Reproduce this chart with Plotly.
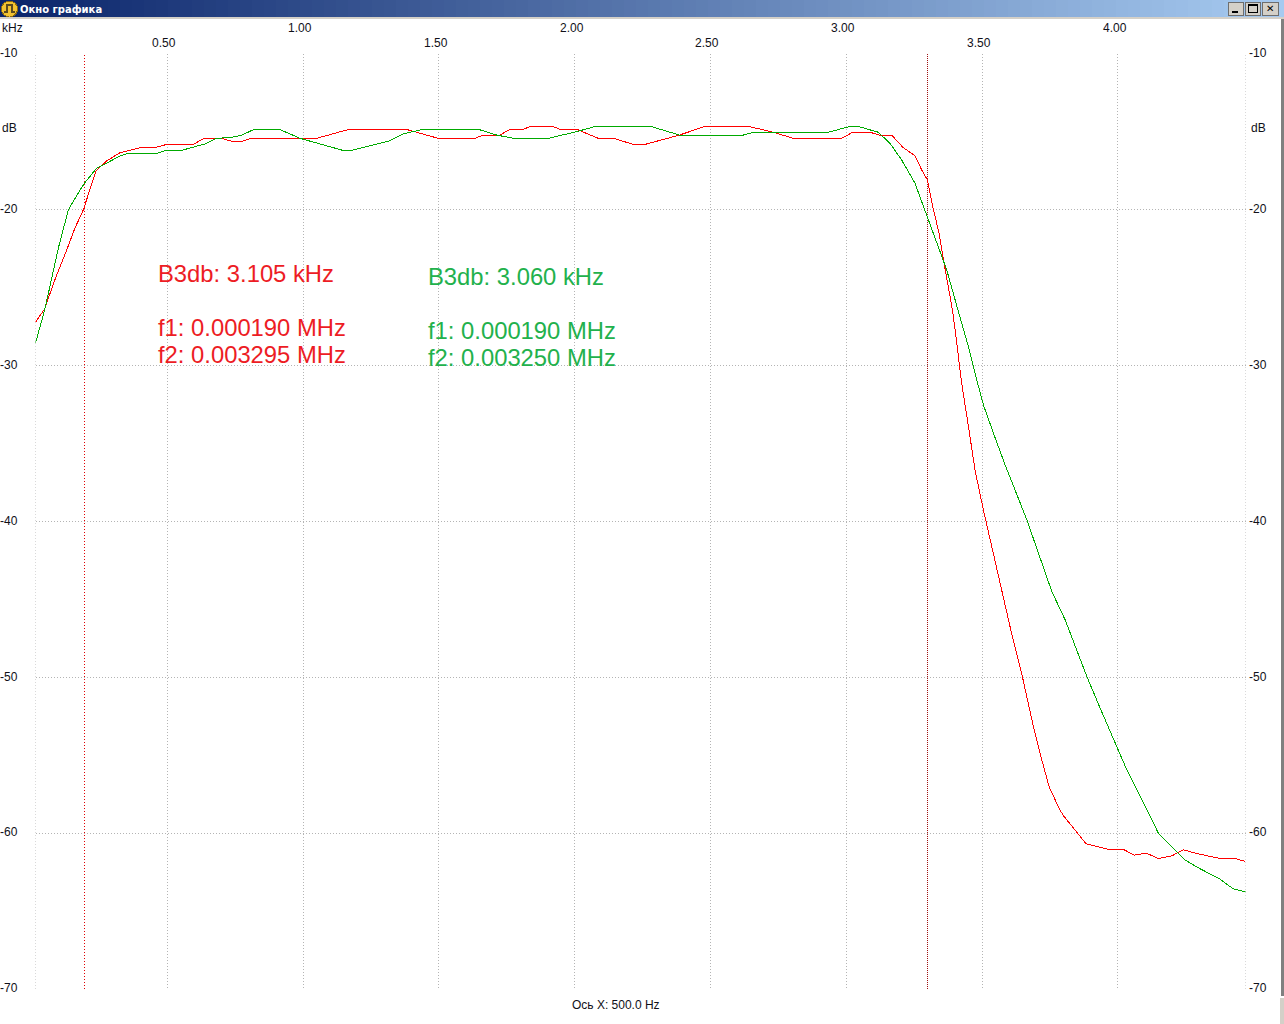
import plotly.graph_objects as go

W, H = 1284, 1024

# ---- data (kHz, dB) ----
red_khz = [0.015, 0.050, 0.060, 0.093, 0.130, 0.160, 0.191, 0.216, 0.238, 0.277, 0.326, 0.406, 0.461, 0.498,
           0.596, 0.635, 0.701, 0.737, 0.774, 0.811, 1.050, 1.170, 1.379, 1.498, 1.633, 1.664, 1.725, 1.762,
           1.811, 1.842, 1.916, 1.946, 2.008, 2.087, 2.143, 2.216, 2.259, 2.386, 2.484, 2.634, 2.732, 2.805,
           2.983, 3.024, 3.088, 3.121, 3.167, 3.210, 3.253, 3.278, 3.299, 3.321, 3.342, 3.358, 3.376, 3.391,
           3.404, 3.414, 3.425, 3.450, 3.474, 3.505, 3.536, 3.573, 3.603, 3.649, 3.689, 3.720, 3.747, 3.785,
           3.800, 3.842, 3.883, 3.971, 4.023, 4.060, 4.106, 4.149, 4.199, 4.241, 4.290, 4.383, 4.435, 4.470]
red_db = [-27.21, -26.31, -25.78, -24.17, -22.57, -21.18, -20.0, -18.72, -17.48, -16.86, -16.33, -15.98, -15.98, -15.8,
          -15.8, -15.41, -15.41, -15.6, -15.6, -15.41, -15.41, -14.83, -14.83, -15.41, -15.41, -15.2, -15.2, -14.83,
          -14.83, -14.62, -14.62, -14.83, -14.83, -15.41, -15.41, -15.8, -15.8, -15.2, -14.62, -14.62, -15.02, -15.41,
          -15.41, -15.02, -15.02, -15.2, -15.2, -16.01, -16.52, -17.44, -18.08, -20.0, -21.5, -23.21, -24.92, -26.42,
          -28.13, -29.63, -31.12, -33.9, -36.68, -39.25, -41.6, -44.27, -46.73, -49.98, -53.15, -55.28, -57.01, -58.44,
          -58.87, -59.77, -60.67, -61.05, -61.05, -61.39, -61.27, -61.61, -61.44, -61.05, -61.29, -61.63, -61.63, -61.80]

green_khz = [0.015, 0.047, 0.068, 0.099, 0.136, 0.148, 0.179, 0.197, 0.240, 0.264, 0.326, 0.357, 0.461, 0.498,
             0.553, 0.639, 0.682, 0.731, 0.774, 0.820, 0.913, 0.989, 1.142, 1.183, 1.320, 1.369, 1.441, 1.645,
             1.713, 1.774, 1.903, 2.008, 2.069, 2.094, 2.275, 2.386, 2.621, 2.658, 2.934, 2.996, 3.020, 3.039,
             3.118, 3.161, 3.204, 3.253, 3.299, 3.342, 3.370, 3.394, 3.425, 3.453, 3.474, 3.505, 3.542, 3.585,
             3.665, 3.728, 3.757, 3.806, 3.886, 3.935, 3.984, 4.033, 4.106, 4.149, 4.180, 4.248, 4.291, 4.376,
             4.425, 4.470]
green_db = [-28.55, -26.53, -24.92, -22.46, -20.0, -19.62, -18.72, -18.25, -17.33, -17.12, -16.54, -16.37, -16.37, -16.18,
            -16.18, -15.77, -15.41, -15.36, -15.21, -14.83, -14.83, -15.41, -16.16, -16.16, -15.56, -15.13, -14.83, -14.83,
            -15.2, -15.41, -15.41, -14.98, -14.68, -14.62, -14.62, -15.2, -15.2, -15.02, -15.02, -14.73, -14.62, -14.62,
            -15.02, -15.73, -16.8, -18.29, -20.43, -22.46, -23.85, -25.35, -27.27, -28.98, -30.48, -32.51, -34.33, -36.36,
            -39.89, -43.1, -44.49, -46.3, -49.94, -51.97, -54.0, -55.92, -58.44, -59.98, -60.52, -61.7, -62.16, -62.93,
            -63.56, -63.75]

x_ticks_upper = [1.0, 2.0, 3.0, 4.0]
x_ticks_lower = [0.5, 1.5, 2.5, 3.5]
y_ticks = [-10, -20, -30, -40, -50, -60, -70]
x_range = [0.015, 4.47]
y_range = [-70, -10]
cursor_f1 = 0.195
cursor_f2 = 3.299

red_notes = ["B3db: 3.105 kHz", "f1: 0.000190 MHz", "f2: 0.003295 MHz"]
green_notes = ["B3db: 3.060 kHz", "f1: 0.000190 MHz", "f2: 0.003250 MHz"]

# ---- styling ----
FONT = "Liberation Sans"
GRID = "#b4b4b4"
TXT = "#101018"
RED_T, GREEN_T = "#ed1c24", "#22b14c"


def fx(p):
    return p / W


def fy(p):
    return 1 - p / H


fig = go.Figure()
fig.add_trace(go.Scatter(x=red_khz, y=red_db, mode="lines", line=dict(color="#ff0000", width=1), name="red", showlegend=False))
fig.add_trace(go.Scatter(x=green_khz, y=green_db, mode="lines", line=dict(color="#00aa00", width=1), name="green", showlegend=False))

shapes, ann = [], []


def rect(x0, y0, x1, y1, fill, line=None):
    shapes.append(dict(type="rect", xref="paper", yref="paper", x0=fx(x0), x1=fx(x1), y0=fy(y0), y1=fy(y1),
                       fillcolor=fill, line=dict(width=1 if line else 0, color=line or fill), layer="above"))


def label(text, px, py, color=TXT, size=12, anchor="left", bold=False, family=FONT):
    ann.append(dict(text=f"<b>{text}</b>" if bold else text, xref="paper", yref="paper", x=fx(px), y=fy(py),
                    xanchor=anchor, yanchor="middle", showarrow=False,
                    font=dict(family=family, size=size, color=color)))


# title bar gradient
N = 107
c0, c1 = (10, 36, 106), (166, 202, 240)
for i in range(N):
    t = i / (N - 1)
    col = "rgb(%d,%d,%d)" % tuple(round(a + (b - a) * t) for a, b in zip(c0, c1))
    rect(i * W / N, 0, (i + 1) * W / N + 0.5, 17, col)
rect(0, 17, W, 19, "#d4d0c8")

# icon
shapes.append(dict(type="circle", xref="paper", yref="paper", x0=fx(1.5), x1=fx(17.5), y0=fy(1), y1=fy(17),
                   fillcolor="#f2c230", line=dict(color="#8a6a10", width=1), layer="above"))
shapes.append(dict(type="path", xref="paper", yref="paper", layer="above", line=dict(color="#5a4a20", width=1.5),
                   path=f"M {fx(4)} {fy(12)} L {fx(7)} {fy(12)} L {fx(7)} {fy(5)} L {fx(12)} {fy(5)} L {fx(12)} {fy(12)} L {fx(15)} {fy(12)}"))
label("Окно графика", 18, 9, color="#ffffff", size=10, bold=True, family="DejaVu Sans")

# window buttons
for bx0, bx1 in [(1228, 1243), (1245, 1260), (1262, 1278)]:
    rect(bx0, 2, bx1, 15, "#d4d0c8", "#6e6e6e")
rect(1232, 11, 1238, 13, "#000000")
rect(1248.5, 4.5, 1257, 12.5, "#d4d0c8", "#000000")
rect(1248.5, 4.5, 1257, 6, "#000000")
label("✕", 1270, 8.5, color="#000000", size=10, anchor="center", family="DejaVu Sans")

# window right edge
rect(1281, 19, 1284, 996, "#808080")
rect(1280, 998, 1284, H, "#d4d0c8")

# plot frame (dotted left and right borders)
for xv in x_range:
    shapes.append(dict(type="line", xref="x", yref="y", x0=xv, x1=xv, y0=y_range[0], y1=y_range[1],
                       line=dict(color=GRID, width=1, dash="1px,2px"), layer="below"))
# cursors
shapes.append(dict(type="line", xref="x", yref="y", x0=cursor_f1, x1=cursor_f1, y0=y_range[0], y1=y_range[1],
                   line=dict(color="#e00000", width=1, dash="1px,2px"), layer="below"))
shapes.append(dict(type="line", xref="x", yref="y", x0=cursor_f2, x1=cursor_f2, y0=y_range[0], y1=y_range[1],
                   line=dict(color="#a01010", width=1, dash="1px,1px"), layer="below"))

# tick labels
for v in x_ticks_upper:
    ann.append(dict(text=f"{v:.2f}", xref="x", yref="paper", x=v, y=fy(28), xshift=-3, showarrow=False,
                    xanchor="center", yanchor="middle", font=dict(family=FONT, size=12, color=TXT)))
for v in x_ticks_lower:
    ann.append(dict(text=f"{v:.2f}", xref="x", yref="paper", x=v, y=fy(43), xshift=-3, showarrow=False,
                    xanchor="center", yanchor="middle", font=dict(family=FONT, size=12, color=TXT)))
for v in y_ticks:
    ann.append(dict(text=str(v), xref="paper", yref="y", x=fx(20.5), y=v, yshift=1, showarrow=False,
                    xanchor="right", yanchor="middle", font=dict(family=FONT, size=12, color=TXT)))
    ann.append(dict(text=str(v), xref="paper", yref="y", x=fx(1247), y=v, yshift=1, showarrow=False,
                    xanchor="left", yanchor="middle", font=dict(family=FONT, size=12, color=TXT)))

label("kHz", 0, 28)
label("dB", 0, 128)
label("dB", 1248.5, 128)
label("Ось X: 500.0 Hz", 615.5, 1005, anchor="center")

for txt, py in zip(red_notes, [273, 327, 354]):
    label(txt, 156, py, color=RED_T, size=23.8)
for txt, py in zip(green_notes, [276, 330, 357]):
    label(txt, 426, py, color=GREEN_T, size=23.8)

fig.update_layout(
    width=W, height=H, margin=dict(l=0, r=0, t=0, b=0, pad=0, autoexpand=False),
    paper_bgcolor="#ffffff", plot_bgcolor="#ffffff", showlegend=False,
    shapes=shapes, annotations=ann,
    xaxis=dict(domain=[fx(35.5), fx(1245.5)], range=x_range, tickvals=x_ticks_upper + x_ticks_lower, showticklabels=False,
               ticks="", showgrid=True, gridcolor=GRID, gridwidth=1, griddash="1px,2px", zeroline=False, showline=False),
    yaxis=dict(domain=[fy(989.3), fy(54)], range=y_range, tickvals=y_ticks, showticklabels=False,
               ticks="", showgrid=True, gridcolor=GRID, gridwidth=1, griddash="1px,2px", zeroline=False, showline=False),
)

post = """
document.documentElement.style.overflow='hidden';
document.body.style.margin='0';
document.querySelectorAll('.js-line, .shapelayer path').forEach(function(p){p.style.shapeRendering='crispEdges';});
"""
fig.write_html("out.html", post_script=post, config=dict(displayModeBar=False))
